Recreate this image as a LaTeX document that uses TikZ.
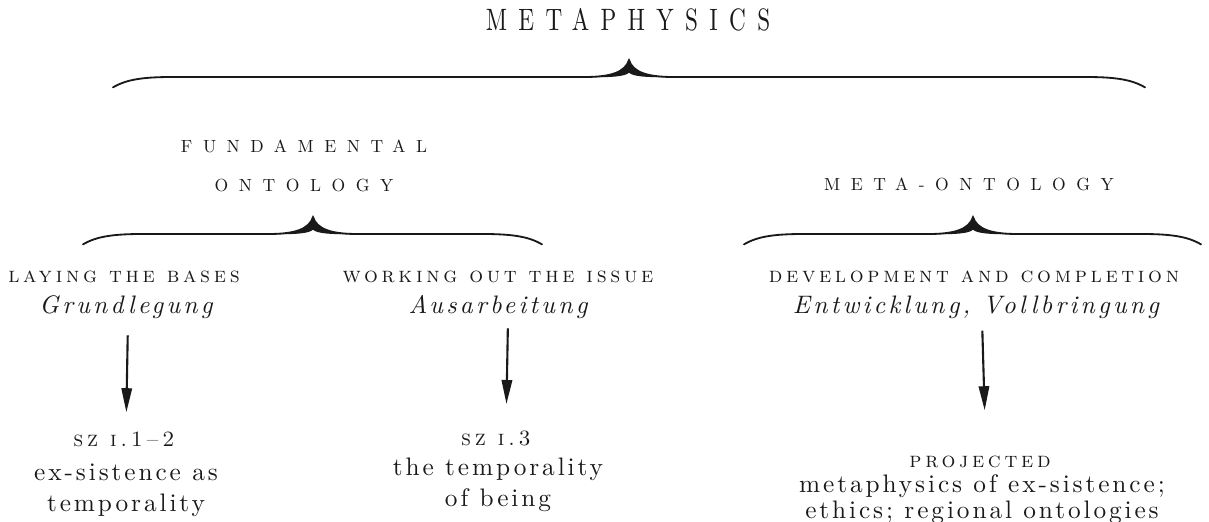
\documentclass[tikz,border=0pt]{standalone}
\usepackage{fontspec}
\usepackage{graphicx}
\usetikzlibrary{positioning, arrows.meta, calc}
\definecolor{cInk}{RGB}{25,25,25}

%% letter-spaced faces (Latin Modern files)
\newfontfamily\ttlfont{lmroman10-regular.otf}[LetterSpace=49, Ligatures=TeX]
\newfontfamily\grpfont{lmroman10-regular.otf}[LetterSpace=60, Ligatures=TeX]
\newfontfamily\hdfont{lmromancaps10-regular.otf}[LetterSpace=17, Ligatures=TeX]
\newfontfamily\itfont{lmroman10-italic.otf}[LetterSpace=13, Ligatures=TeX]
\newfontfamily\txfont{lmroman10-regular.otf}[LetterSpace=11.5, Ligatures=TeX]

%% curly brace with a heavy cusp: left x, tip x, right x, flat y
\newcommand{\curlybrace}[4]{%
  \fill[cInk] (#2-1.1,#4) .. controls (#2-0.45,#4) and (#2-0.1,#4+0.12) .. (#2,#4+0.42)
     .. controls (#2+0.1,#4+0.12) and (#2+0.45,#4) .. (#2+1.1,#4)
     .. controls (#2+0.4,#4-0.02) and (#2+0.08,#4+0.02) .. (#2,#4+0.11)
     .. controls (#2-0.08,#4+0.02) and (#2-0.4,#4-0.02) .. (#2-1.1,#4) -- cycle;
  \draw[BRC] (#1,#4-0.26) .. controls (#1+0.35,#4-0.05) and (#1+0.8,#4) .. (#1+1.5,#4)
     -- (#2-1.1,#4) .. controls (#2-0.45,#4) and (#2-0.1,#4+0.12) .. (#2,#4+0.42)
     .. controls (#2+0.1,#4+0.12) and (#2+0.45,#4) .. (#2+1.1,#4)
     -- (#3-1.5,#4) .. controls (#3-0.8,#4) and (#3-0.35,#4-0.05) .. (#3,#4-0.26);
}

\tikzset{
  %% title, wide-spaced capitals
  TTL/.style={inner sep=0pt, text=cInk, font=\ttlfont\fontsize{22}{26}\selectfont},
  %% group labels (fundamental / meta ontology)
  GRP/.style={inner sep=0pt, text=cInk, align=center,
              font=\grpfont\fontsize{12.5}{28.4}\selectfont},
  %% small caps headings
  HD/.style={inner sep=0pt, text=cInk, font=\hdfont\fontsize{15.5}{19}\selectfont},
  %% german terms
  IT/.style={inner sep=0pt, text=cInk, font=\itfont\fontsize{18}{22}\selectfont},
  %% body lines
  TX/.style={inner sep=0pt, text=cInk, align=center,
             font=\txfont\fontsize{18}{#1}\selectfont},
  TX/.default=22.7,
  %% arrows and braces
  A/.style={-{Triangle[length=0.6cm,width=0.26cm]}, line width=1.5pt, draw=cInk},
  BRC/.style={line width=1.3pt, draw=cInk, line cap=round},
}

\begin{document}
\begin{tikzpicture}
\useasboundingbox (0,0) rectangle (30.225,13.05);

%% ════════════════════════════════════════════════
%%  TOP: title and main brace
%% ════════════════════════════════════════════════
\node[TTL, anchor=base] (meta) at (15.7, 12.275) {\scalebox{0.75}[1]{METAPHYSICS}};
\curlybrace{2.825}{15.725}{28.625}{11.125}

%% ── second level ──
\node[GRP, anchor=base] (fundont) at (7.6, 8.25)    {FUNDAMENTAL\\ONTOLOGY};
\node[GRP, anchor=base] (metaont) at (24.225, 8.275) {META-ONTOLOGY};
\curlybrace{2.075}{7.825}{13.55}{7.2}
\curlybrace{18.6}{24.325}{30.025}{7.2}

%% ════════════════════════════════════════════════
%%  THIRD LEVEL (headings + german terms)
%% ════════════════════════════════════════════════
\node[HD, anchor=base] (lay)  at (3.1, 5.975)   {laying the bases};
\node[HD, anchor=base] (work) at (12.45, 5.975) {working out the issue};
\node[HD, anchor=base] (dev)  at (24.35, 5.975) {development and completion};

\node[IT, anchor=base] (grund)  at (3.15, 5.2)  {Grundlegung};
\node[IT, anchor=base] (ausarb) at (12.45, 5.2) {Ausarbeitung};
\node[IT, anchor=base] (entw)   at (24.4, 5.2)  {Entwicklung, Vollbringung};

%% ════════════════════════════════════════════════
%%  BOTTOM (works / projected)
%% ════════════════════════════════════════════════
\node[HD, anchor=base] (sz12) at (3.1, 1.875)   {sz i.1--2};
\node[TX, anchor=base] (exs)  at (3.15, 0.25)   {ex-sistence as\\temporality};

\node[HD, anchor=base] (sz3)  at (12.4, 1.9)    {sz i.3};
\node[TX, anchor=base] (temp) at (12.45, 0.375) {the temporality\\of being};

\node[HD, anchor=base] (proj) at (24.5, 1.35)   {projected};
\node[TX=18.5, anchor=base] (mex) at (24.55, 0.075) {metaphysics of ex-sistence;\\ethics; regional ontologies};

%% ════════════════════════════════════════════════
%%  ARROWS
%% ════════════════════════════════════════════════
\draw[A, shorten <=0.4cm, shorten >=0.5cm]
  ([xshift=0.05cm]grund.south) -- ([xshift=0.05cm]sz12.north);
\draw[A, shorten <=0.22cm, shorten >=0.68cm]
  ([xshift=0.25cm]ausarb.south) -- ([xshift=0.25cm]sz3.north);
\draw[A, shorten <=0.28cm, shorten >=1.15cm]
  ([xshift=0.15cm]entw.south) -- ([xshift=0.15cm]proj.north);

\end{tikzpicture}
\end{document}
